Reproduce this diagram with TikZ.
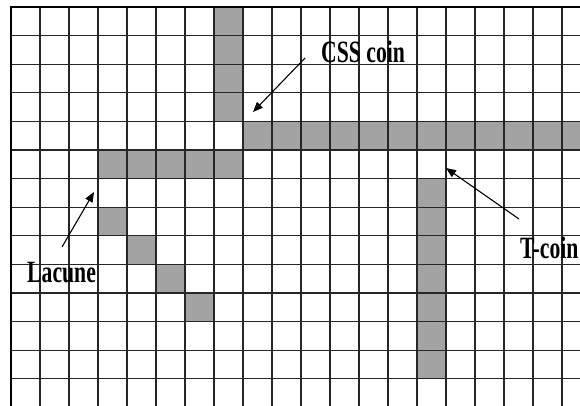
\documentclass[tikz,border=0pt]{standalone}
\usepackage{fontspec}
\usepackage{graphicx}
\setmainfont{Liberation Serif}
\usetikzlibrary{arrows.meta}

\tikzset{
  cellgray/.style={fill=black!36},
  gridline/.style={draw=black!85, line width=1.2pt},
  frameline/.style={draw=black, line width=2.4pt},
  pointer/.style={draw=black, line width=1.1pt, -{Triangle[length=10pt,width=8pt]}},
  tag/.style={inner sep=0pt, font=\bfseries\fontsize{31}{31}\selectfont},
}
% condensed bold label text
\newcommand{\narrowtext}[1]{\scalebox{0.7}[1]{#1}}

\begin{document}
\begin{tikzpicture}[x=1pt, y=-1pt]
  \useasboundingbox (0,0) rectangle (580,405);
  \fill[white] (0,0) rectangle (580,405);
  \clip (0,0) rectangle (580,405);

  % cell size and origin
  \def\cw{29}
  \def\ch{28.6}
  \def\ox{11}
  \def\oy{7}

  % shaded cells (column/row)
  \foreach \c/\r in {7/0, 7/1, 7/2, 7/3,
                     8/4, 9/4, 10/4, 11/4, 12/4, 13/4, 14/4, 15/4, 16/4, 17/4, 18/4, 19/4, 20/4,
                     3/5, 4/5, 5/5, 6/5, 7/5,
                     3/7, 4/8, 5/9, 6/10,
                     14/6, 14/7, 14/8, 14/9, 14/10, 14/11, 14/12}
    \fill[cellgray] ({\ox+\cw*\c}, {\oy+\ch*\r}) rectangle ++(\cw, \ch);

  % grid lines
  \foreach \i in {0,...,20}
    \draw[gridline] ({\ox+\cw*\i}, \oy) -- ({\ox+\cw*\i}, 420);
  \foreach \j in {0,...,14}
    \draw[gridline] (\ox, {\oy+\ch*\j}) -- (600, {\oy+\ch*\j});

  % outer frame (left and top edges)
  \draw[frameline] (\ox, 420) -- (\ox, \oy) -- (600, \oy);

  % labels
  \node[tag, anchor=base west] (css) at (321,62) {\narrowtext{CSS coin}};
  \node[tag, anchor=base west] (tcoin) at (520,258) {\narrowtext{T-coin}};
  \node[tag, anchor=base west] (lacune) at (27,282) {\narrowtext{Lacune}};

  % arrow ends
  \coordinate (cssTail) at (305,58);
  \coordinate (cssTip) at (253,112);
  \coordinate (tTail) at (519,219);
  \coordinate (tTip) at (446,168);
  \coordinate (lTail) at (62,247);
  \coordinate (lTip) at (94,192);

  \draw[pointer] (cssTail) -- (cssTip);
  \draw[pointer] (tTail) -- (tTip);
  \draw[pointer] (lTail) -- (lTip);
\end{tikzpicture}
\end{document}
